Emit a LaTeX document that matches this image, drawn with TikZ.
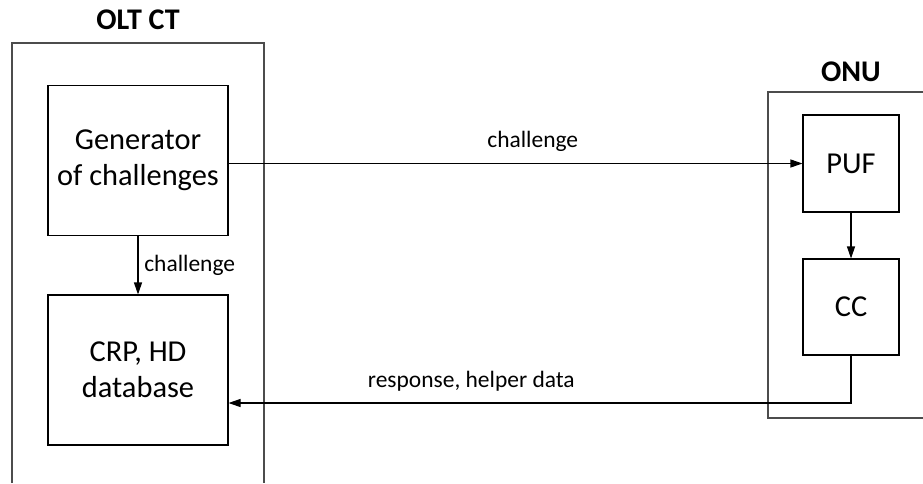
\documentclass[tikz,border=0pt]{standalone}
\usepackage{fontspec}
\setmainfont{Carlito}
\usetikzlibrary{positioning,calc,arrows.meta}

\tikzset{
    block/.style={draw, line width=0.8pt, align=center, font=\fontsize{22.8}{27}\selectfont},
    lbl/.style={font=\fontsize{17.6}{21}\selectfont},
    ttl/.style={font=\fontsize{22.5}{26}\selectfont\bfseries},
    frame/.style={draw=black!70, line width=1.5pt},
    sig/.style={-{Triangle[length=9pt,width=6pt]}, line width=0.8pt},
}

\begin{document}
\begin{tikzpicture}[x=0.75pt, y=-0.75pt]
    \useasboundingbox (0,0) rectangle (923,483);

    % outer frames
    \draw[frame] (12,483) -- (12,43) -- (264,43) -- (264,483);
    \draw[frame] (923,92) -- (768,92) -- (768,418) -- (923,418);
    \node[ttl] (olt) at (138,20) {OLT CT};
    \node[ttl] (onu) at (851,72) {ONU};

    % OLT side
    \node[block, minimum width=135pt, minimum height=112pt] (gen) at (138,160.5) {Generator\\of challenges};
    \node[block, minimum width=135pt, minimum height=112.5pt] (db) at (138,370) {CRP, HD\\database};

    % ONU side
    \node[block, minimum width=72pt, minimum height=72.75pt] (puf) at (851,163.5) {PUF};
    \node[block, minimum width=72pt, minimum height=72pt] (cc) at (851,307) {CC};

    % signals
    \draw[sig] (gen.south) -- node[lbl, right=1pt] {challenge} (db.north);
    \draw[sig] (gen.east |- puf.west) -- node[lbl, above=5pt, pos=0.53] {challenge} (puf.west);
    \draw[sig] (puf.south) -- (cc.north);
    \coordinate (ret) at (851,403);
    \draw[sig] (cc.south) -- (ret) -- node[lbl, above=5pt, pos=0.61] {response, helper data} (db.east |- ret);
\end{tikzpicture}
\end{document}
